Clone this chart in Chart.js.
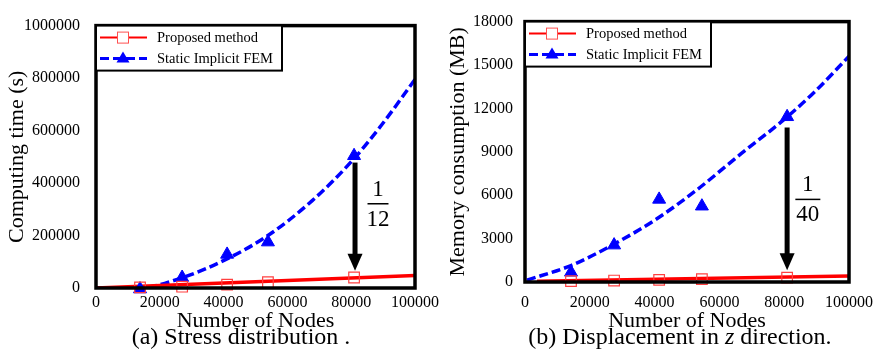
<!DOCTYPE html>
<html>
<head>
<meta charset="utf-8">
<script src="https://cdn.jsdelivr.net/npm/chart.js@4/dist/chart.umd.min.js"></script>
<style>
  body { margin: 0; background: #fff; }
  #wrap { position: relative; width: 888px; height: 351px; font-family: "Liberation Serif", "Times New Roman", serif; }
  .box { position: absolute; top: 0; width: 444px; height: 351px; }
  .cap { position: absolute; top: 323px; font-size: 24px; line-height: 26px; white-space: nowrap; transform: translateX(-50%); }
</style>
</head>
<body>
<div id="wrap">
  <div class="box" style="left:0"><canvas id="timeChart" width="444" height="351"></canvas></div>
  <div class="box" style="left:444px"><canvas id="memChart" width="444" height="351"></canvas></div>
  <div class="cap" style="left:241px">(a) Stress distribution .</div>
  <div class="cap" style="left:680px">(b) Displacement in <i>z</i> direction.</div>
</div>
<script>
const nodeTicks = [0, 20000, 40000, 60000, 80000, 100000];

// (a) computing time (s)
const timeTicks = [0, 200000, 400000, 600000, 800000, 1000000];
const timeNodes = [13800, 27000, 41100, 53900, 80900];
const timeProposed = [2500, 5000, 13000, 22000, 40000];
const timeImplicit = [-4000, 40000, 128000, 175000, 504000];
const timeLineNodes = [0, 100000];
const timeProposedLine = [0, 47500];
const timeCurveNodes = [0, 13200, 26300, 41400, 53900, 67700, 80300, 89700, 100000];
const timeImplicitCurve = [0, 0, 36000, 113000, 200000, 332000, 485000, 624000, 795000];
const timeArrow = [81200, 478000, 66000];   // x, from y, to y
const timeRatio = ['1', '12'];
const timeRatioAt = [88400, 321000];

// (b) memory consumption (MB)
const memTicks = [0, 3000, 6000, 9000, 12000, 15000, 18000];
const memNodes = [14200, 27500, 41400, 54600, 80900];
const memProposed = [60, 100, 150, 200, 300];
const memImplicit = [670, 2550, 5710, 5240, 11420];
const memLineNodes = [3700, 100000];
const memProposedLine = [60, 420];
const memCurveNodes = [600, 14200, 27500, 40700, 53100, 66700, 79900, 89200, 100000];
const memImplicitCurve = [130, 1140, 2620, 4370, 6380, 8870, 11220, 13100, 15600];
const memArrow = [80900, 10680, 810];
const memRatio = ['1', '40'];
const memRatioAt = [87300, 5710];

const FONT = '"Liberation Serif", "Times New Roman", serif';
const RED = '#ff0000';
const BLUE = '#0000ff';

const pts = (xs, ys) => xs.map((x, i) => ({ x: x, y: ys[i] }));

// thick black frame round the plot
const framePlugin = {
    id: 'frame',
    afterDatasetsDraw(chart) {
        const a = chart.chartArea;
        const ctx = chart.ctx;
        ctx.save();
        ctx.strokeStyle = '#000';
        ctx.lineWidth = 3.5;
        ctx.strokeRect(a.left, a.top, a.right - a.left, a.bottom - a.top);
        ctx.restore();
    }
};

// boxed legend in the top-left corner of the plot
const boxLegend = {
    id: 'boxLegend',
    afterDraw(chart) {
        const a = chart.chartArea;
        const ctx = chart.ctx;
        const items = [
            { text: 'Proposed method', color: RED, dash: [], width: 2, marker: 'square' },
            { text: 'Static Implicit FEM', color: BLUE, dash: [9, 4], width: 3, marker: 'triangle' }
        ];
        ctx.save();
        ctx.fillStyle = '#fff';
        ctx.fillRect(a.left, a.top, 186, 45);
        ctx.strokeStyle = '#000';
        ctx.lineWidth = 2;
        ctx.strokeRect(a.left, a.top, 186, 45);
        items.forEach((it, i) => {
            const y = a.top + 12 + i * 21;
            ctx.strokeStyle = it.color;
            ctx.lineWidth = it.width;
            ctx.setLineDash(it.dash);
            ctx.beginPath();
            ctx.moveTo(a.left + 4, y);
            ctx.lineTo(a.left + 51, y);
            ctx.stroke();
            ctx.setLineDash([]);
            const mx = a.left + 27;
            if (it.marker === 'square') {
                ctx.fillStyle = '#fff';
                ctx.fillRect(mx - 5.5, y - 5.5, 11, 11);
                ctx.strokeStyle = '#ff5050';
                ctx.lineWidth = 1;
                ctx.strokeRect(mx - 5.5, y - 5.5, 11, 11);
            } else {
                ctx.fillStyle = BLUE;
                ctx.beginPath();
                ctx.moveTo(mx, y - 7);
                ctx.lineTo(mx + 6.5, y + 4);
                ctx.lineTo(mx - 6.5, y + 4);
                ctx.closePath();
                ctx.fill();
            }
            ctx.fillStyle = '#000';
            ctx.font = '14.5px ' + FONT;
            ctx.textBaseline = 'middle';
            ctx.textAlign = 'left';
            ctx.fillText(it.text, a.left + 61, y + 1);
        });
        ctx.restore();
    }
};

// down arrow with a ratio written beside it, in data units
const ratioArrow = {
    id: 'ratioArrow',
    afterDraw(chart, args, opts) {
        const xs = chart.scales.x, ys = chart.scales.y;
        const ctx = chart.ctx;
        const x = xs.getPixelForValue(opts.arrow[0]);
        const y0 = ys.getPixelForValue(opts.arrow[1]);
        const y1 = ys.getPixelForValue(opts.arrow[2]);
        ctx.save();
        ctx.strokeStyle = '#000';
        ctx.fillStyle = '#000';
        ctx.lineWidth = 5;
        ctx.beginPath();
        ctx.moveTo(x, y0);
        ctx.lineTo(x, y1 - 14);
        ctx.stroke();
        ctx.beginPath();
        ctx.moveTo(x - 7.5, y1 - 17);
        ctx.lineTo(x + 7.5, y1 - 17);
        ctx.lineTo(x, y1);
        ctx.closePath();
        ctx.fill();
        const lx = xs.getPixelForValue(opts.at[0]);
        const ly = ys.getPixelForValue(opts.at[1]);
        ctx.lineWidth = 1.5;
        ctx.beginPath();
        ctx.moveTo(lx - opts.bar / 2, ly);
        ctx.lineTo(lx + opts.bar / 2, ly);
        ctx.stroke();
        ctx.font = '23px ' + FONT;
        ctx.textAlign = 'center';
        ctx.textBaseline = 'middle';
        ctx.fillText(opts.text[0], lx, ly - 14);
        ctx.fillText(opts.text[1], lx, ly + 16);
        ctx.restore();
    }
};

function makeChart(id, cfg) {
    const datasets = [
        {
            label: 'Proposed method',
            data: pts(cfg.nodes, cfg.proposed),
            pointStyle: 'rect',
            pointRadius: 7.5,
            pointBorderColor: '#ff4040',
            pointBackgroundColor: 'rgba(0,0,0,0)',
            pointBorderWidth: 1.2,
            showLine: false,
            clip: false
        },
        {
            label: 'Static Implicit FEM',
            data: pts(cfg.nodes, cfg.implicit),
            pointStyle: 'triangle',
            pointRadius: 7.5,
            pointBorderColor: BLUE,
            pointBackgroundColor: BLUE,
            pointBorderWidth: 1,
            showLine: false,
            clip: false
        },
        {
            label: 'Proposed trend',
            data: pts(cfg.lineNodes, cfg.proposedLine),
            borderColor: RED,
            borderWidth: 3.5,
            pointRadius: 0,
            showLine: true
        },
        {
            label: 'Implicit trend',
            data: pts(cfg.curveNodes, cfg.implicitCurve),
            borderColor: BLUE,
            borderWidth: 3.5,
            borderDash: [9, 4],
            pointRadius: 0,
            showLine: true,
            cubicInterpolationMode: 'monotone'
        }
    ];

    return new Chart(document.getElementById(id), {
        type: 'scatter',
        data: { datasets: datasets },
        plugins: [framePlugin, boxLegend, ratioArrow],
        options: {
            responsive: false,
            animation: false,
            events: [],
            layout: { padding: { left: 0, top: 14, right: cfg.padRight, bottom: 17 } },
            plugins: {
                legend: { display: false },
                tooltip: { enabled: false },
                ratioArrow: { arrow: cfg.arrow, at: cfg.ratioAt, text: cfg.ratio, bar: cfg.bar }
            },
            scales: {
                x: {
                    type: 'linear',
                    min: 0,
                    max: 100000,
                    afterBuildTicks: s => { s.ticks = nodeTicks.map(v => ({ value: v })); },
                    afterFit: s => { s.height = cfg.xHeight; },
                    grid: { display: false, drawTicks: false },
                    border: { display: false },
                    ticks: {
                        padding: cfg.xPad,
                        maxRotation: 0,
                        autoSkip: false,
                        color: '#000',
                        font: { family: FONT, size: 16 },
                        callback: v => String(v)
                    },
                    title: {
                        display: true,
                        text: 'Number of Nodes',
                        color: '#000',
                        padding: 0,
                        font: { family: FONT, size: 22 }
                    }
                },
                y: {
                    type: 'linear',
                    min: cfg.yTicks[0],
                    max: cfg.yTicks[cfg.yTicks.length - 1],
                    afterBuildTicks: s => { s.ticks = cfg.yTicks.map(v => ({ value: v })); },
                    afterFit: s => { s.width = cfg.yWidth; },
                    grid: { display: false, drawTicks: false },
                    border: { display: false },
                    ticks: {
                        padding: cfg.yPad,
                        color: '#000',
                        font: { family: FONT, size: 16 },
                        callback: v => String(v)
                    },
                    title: {
                        display: true,
                        text: cfg.yTitle,
                        color: '#000',
                        padding: { top: cfg.yTitlePad, bottom: 0 },
                        font: { family: FONT, size: 22 }
                    }
                }
            }
        }
    });
}

makeChart('timeChart', {
    nodes: timeNodes, proposed: timeProposed, implicit: timeImplicit,
    lineNodes: timeLineNodes, proposedLine: timeProposedLine,
    curveNodes: timeCurveNodes, implicitCurve: timeImplicitCurve,
    yTicks: timeTicks, yTitle: 'Computing time (s)',
    arrow: timeArrow, ratio: timeRatio, ratioAt: timeRatioAt, bar: 21,
    padRight: 29, yWidth: 96, yPad: 16, yTitlePad: 4, xHeight: 46, xPad: 5
});

makeChart('memChart', {
    nodes: memNodes, proposed: memProposed, implicit: memImplicit,
    lineNodes: memLineNodes, proposedLine: memProposedLine,
    curveNodes: memCurveNodes, implicitCurve: memImplicitCurve,
    yTicks: memTicks, yTitle: 'Memory consumption (MB)',
    arrow: memArrow, ratio: memRatio, ratioAt: memRatioAt, bar: 25,
    padRight: 39, yWidth: 81, yPad: 12, yTitlePad: 1, xHeight: 52, xPad: 11
});
</script>
</body>
</html>
